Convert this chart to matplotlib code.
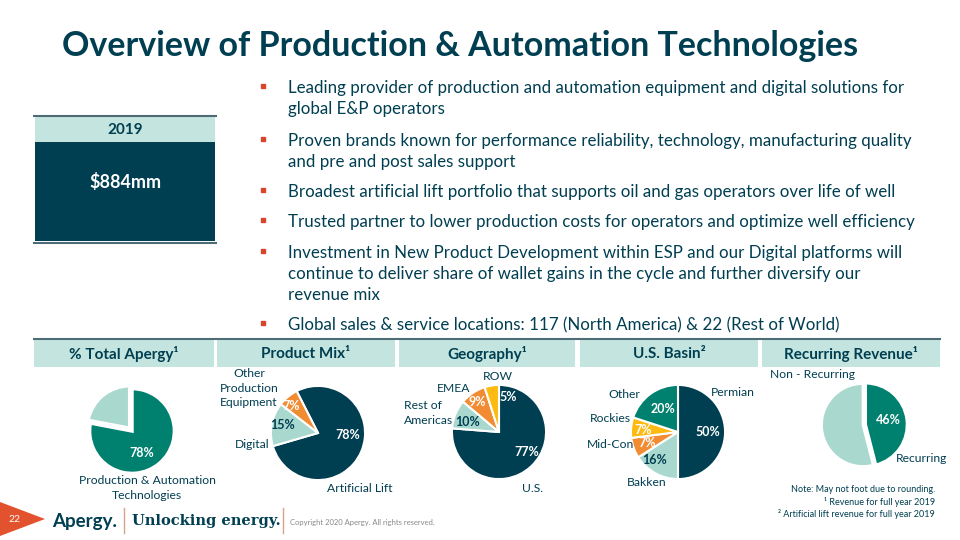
import matplotlib.pyplot as plt
from matplotlib.patches import Rectangle, Polygon

# Colours
DARK = "#003E51"
TEAL = "#00806F"
LIGHT = "#A9D8CF"
BAND = "#C4E5DF"
ORANGE = "#F28C33"
YELLOW = "#FDBB12"
RED = "#D9442B"

plt.rcParams['font.family'] = ['Lato', 'DejaVu Sans']

# Data
total_labels = ["Production & Automation\nTechnologies", ""]
total_values = [78, 22]

product_labels = ["Artificial Lift", "Digital", "Other\nProduction\nEquipment"]
product_values = [78, 15, 7]

geo_labels = ["U.S.", "Rest of\nAmericas", "EMEA", "ROW"]
geo_values = [77, 10, 9, 5]

basin_labels = ["Permian", "Bakken", "Mid-Con", "Rockies", "Other"]
basin_values = [50, 16, 7, 7, 20]

recurring_labels = ["Recurring", "Non - Recurring"]
recurring_values = [46, 54]

headers = ["% Total Apergy¹", "Product Mix¹", "Geography¹",
           "U.S. Basin²", "Recurring Revenue¹"]

bullets = [
    ["Leading provider of production and automation equipment and digital solutions for",
     "global E&P operators"],
    ["Proven brands known for performance reliability, technology, manufacturing quality",
     "and pre and post sales support"],
    ["Broadest artificial lift portfolio that supports oil and gas operators over life of well"],
    ["Trusted partner to lower production costs for operators and optimize well efficiency"],
    ["Investment in New Product Development within ESP and our Digital platforms will",
     "continue to deliver share of wallet gains in the cycle and further diversify our",
     "revenue mix"],
    ["Global sales & service locations: 117 (North America) & 22 (Rest of World)"],
]

fig = plt.figure(figsize=(9.6, 5.4), dpi=100)
bg = fig.add_axes([0, 0, 1, 1])
bg.set_xlim(0, 960)
bg.set_ylim(540, 0)
bg.axis("off")
bg.set_zorder(5)
bg.patch.set_visible(False)

# Title
bg.text(62, 46, "Overview of Production & Automation Technologies", fontsize=24.5,
        fontweight="bold", color=DARK, va="center", ha="left")

# Left summary box
bg.add_patch(Rectangle((35, 116), 180, 26, color=BAND, lw=0))
bg.add_patch(Rectangle((35, 142), 180, 99, color=DARK, lw=0))
bg.plot([34, 216], [116, 116], color="#4F6B75", lw=1.5)
bg.plot([34, 216], [243, 243], color="#4F6B75", lw=1.5)
bg.text(125, 130, "2019", fontsize=11, fontweight="bold", color=DARK, ha="center", va="center")
bg.text(125, 182, "$884mm", fontsize=13, fontweight="bold", color="white", ha="center", va="center")

# Bullets
bullet_y = [88, 141, 192, 222, 253, 325]
for y, lines in zip(bullet_y, bullets):
    bg.plot(263, y - 2, marker="s", ms=3.5, color=RED)
    for i, line in enumerate(lines):
        bg.text(288, y + 5 + i * 21, line, fontsize=12.2, color=DARK,
                va="baseline", ha="left")

# Header row
band_x = [(34, 214), (217, 395), (399, 575), (580, 758), (762, 940)]
bg.plot([34, 940], [339, 339], color="#4F6B75", lw=1.5)
for (x0, x1), h in zip(band_x, headers):
    bg.add_patch(Rectangle((x0, 340), x1 - x0, 27, color=BAND, lw=0))
    bg.text((x0 + x1) / 2, 354, h, fontsize=11, fontweight="bold", color=DARK,
            ha="center", va="center")


def pie_axes(cx, cy, r):
    return fig.add_axes([(cx - r) / 960, 1 - (cy + r) / 540, 2 * r / 960, 2 * r / 540])


def fix(ax):
    ax.set_xlim(-1.02, 1.02)
    ax.set_ylim(-1.02, 1.02)
    ax.axis("off")


wp = dict(edgecolor="white", linewidth=1.5)
lab_fs = 8.7

# 1. % Total Apergy
ax = pie_axes(132, 431, 46)
ax.pie(total_values, colors=[TEAL, LIGHT], startangle=90, counterclock=False,
       explode=[0, 0.08], radius=0.94, wedgeprops=dict(edgecolor="white", linewidth=2.5))
fix(ax)
bg.text(142, 453, f"{total_values[0]}%", color="white", fontsize=9, fontweight="bold", ha="center", va="center")
bg.text(147, 488, total_labels[0], color=DARK, fontsize=lab_fs, ha="center", va="center", linespacing=1.35)

# 2. Product Mix
ax = pie_axes(318, 433, 48)
ax.pie(product_values, colors=[DARK, LIGHT, ORANGE], startangle=117, counterclock=False,
       wedgeprops=wp)
fix(ax)
pcts = [(348, 435, "white"), (283, 425, DARK), (291, 406, "white")]
for (x, y, c), v in zip(pcts, product_values):
    bg.text(x, y, f"{v}%", color=c, fontsize=9, fontweight="bold", ha="center", va="center")
lbl_pos = [(360, 489, "center"), (252, 444, "center"), (249, 388, "center")]
for (x, y, ha), t in zip(lbl_pos, product_labels):
    bg.text(x, y, t, color=DARK, fontsize=lab_fs, ha=ha, va="center", linespacing=1.35)

# 3. Geography
ax = pie_axes(499, 432, 48)
ax.pie(geo_values, colors=[DARK, LIGHT, ORANGE, YELLOW], startangle=90, counterclock=False,
       wedgeprops=wp)
fix(ax)
pcts = [(527, 452, "white"), (468, 422, DARK), (477, 402, "white"), (508, 397, "white")]
for (x, y, c), v in zip(pcts, geo_values):
    bg.text(x, y, f"{v}%", color=c, fontsize=9, fontweight="bold", ha="center", va="center")
lbl_pos = [(533, 489, "center"), (404, 413, "left"), (454, 389, "center"), (498, 377, "center")]
for (x, y, ha), t in zip(lbl_pos, geo_labels):
    bg.text(x, y, t, color=DARK, fontsize=lab_fs, ha=ha, va="center", linespacing=1.35)

# 4. U.S. Basin
ax = pie_axes(678, 432, 48)
ax.pie(basin_values, colors=[DARK, LIGHT, ORANGE, YELLOW, TEAL], startangle=90,
       counterclock=False, wedgeprops=wp)
fix(ax)
pcts = [(708, 432, "white"), (655, 460, DARK), (647, 443, "white"), (643, 430, "white"), (663, 409, "white")]
for (x, y, c), v in zip(pcts, basin_values):
    bg.text(x, y, f"{v}%", color=c, fontsize=9, fontweight="bold", ha="center", va="center")
lbl_pos = [(733, 392), (647, 482), (610, 445), (610, 419), (624, 395)]
for (x, y), t in zip(lbl_pos, basin_labels):
    bg.text(x, y, t, color=DARK, fontsize=lab_fs, ha="center", va="center")

# 5. Recurring Revenue
ax = pie_axes(863, 425, 45)
ax.pie(recurring_values, colors=[TEAL, LIGHT], startangle=90, counterclock=False,
       explode=[0.06, 0], radius=0.94, wedgeprops=dict(edgecolor="white", linewidth=2))
fix(ax)
bg.text(888, 420, f"{recurring_values[0]}%", color="white", fontsize=9, fontweight="bold", ha="center", va="center")
bg.text(922, 458, recurring_labels[0], color=DARK, fontsize=lab_fs, ha="center", va="center")
bg.text(813, 375, recurring_labels[1], color=DARK, fontsize=lab_fs, ha="center", va="center")

# Notes
notes = ["Note: May not foot due to rounding.", "¹ Revenue for full year 2019",
         "² Artificial lift revenue for full year 2019"]
for i, n in enumerate(notes):
    bg.text(935, 490 + i * 12, n, color=DARK, fontsize=6.5, ha="right", va="center")

# Footer
bg.add_patch(Polygon([[0, 502], [45, 519], [0, 536]], closed=True, color="#E2522E", lw=0))
bg.text(14, 520, "22", color="white", fontsize=7.5, ha="center", va="center")
bg.text(52, 521, "Apergy.", color=DARK, fontsize=13.5, fontweight="bold", ha="left", va="center")
bg.plot([124, 124], [508, 533], color="#D9A08A", lw=1)
bg.text(132, 521, "Unlocking energy.", color=DARK, fontsize=10.5, fontweight="bold",
        family=["DejaVu Serif"], ha="left", va="center")
bg.plot([283, 283], [508, 533], color="#D9A08A", lw=1)
bg.text(290, 522, "Copyright 2020 Apergy. All rights reserved.", color="#8A8A8A",
        fontsize=5.5, ha="left", va="center")

fig.savefig("out.png", dpi=100)
